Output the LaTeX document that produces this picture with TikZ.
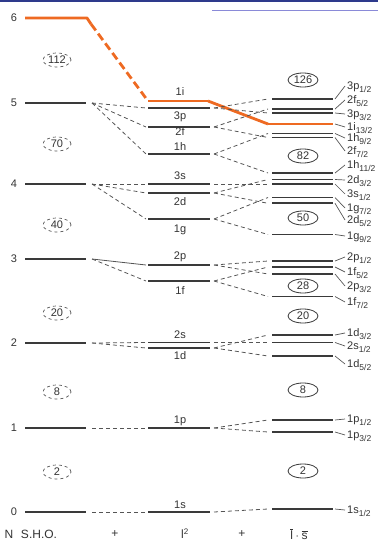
\documentclass[tikz,border=0pt]{standalone}
\usepackage{fontspec}
\setmainfont{Liberation Sans}
\usetikzlibrary{shapes.geometric}
\definecolor{lvc}{HTML}{3A3A3A}
\definecolor{dsc}{HTML}{555555}
\definecolor{txc}{HTML}{333333}
\definecolor{orng}{HTML}{EE6A22}
\definecolor{topblue}{HTML}{2E3A8C}
\definecolor{toplav}{HTML}{8A8AD8}
\newcommand\subtxt[1]{\raisebox{-2.6pt}{\fontsize{8.5}{9}\selectfont #1}}
\begin{document}
\begin{tikzpicture}[x=1pt,y=-1pt,line join=round,
  lev/.style={draw=lvc,line width=1.8pt},
  olev/.style={draw=orng,line width=2.8pt},
  con/.style={draw=dsc,line width=0.8pt,dash pattern=on 4pt off 3pt},
  scon/.style={draw=dsc,line width=0.8pt},
  ocon/.style={draw=orng,line width=2.8pt,dash pattern=on 8pt off 4pt},
  tickline/.style={draw=dsc,line width=0.7pt},
  nlab/.style={text=txc,font=\fontsize{11}{13}\selectfont,inner sep=0pt},
  mlab/.style={text=txc,font=\fontsize{11}{13}\selectfont,inner sep=0pt},
  rlab/.style={text=txc,font=\fontsize{11}{13}\selectfont,inner sep=0pt,anchor=base west},
  blab/.style={text=txc,font=\fontsize{12}{14}\selectfont,inner sep=0pt},
  magd/.style={ellipse,draw=dsc,dashed,line width=0.7pt,minimum width=28pt,minimum height=14pt,inner sep=0pt,text=txc,font=\fontsize{11}{13}\selectfont},
  magn/.style={ellipse,draw=lvc,line width=0.8pt,minimum width=30pt,minimum height=14pt,inner sep=0pt,text=txc,font=\fontsize{11}{13}\selectfont},
]
\useasboundingbox (0,0) rectangle (378,543);
% top rules
\draw[topblue,line width=2pt] (0,1) -- (378,1);
\draw[toplav,line width=0.8pt] (212,10) -- (378,10);

% S.H.O. levels
\foreach \n/\y in {5/103,4/184,3/259,2/343,1/428,0/512} {
  \node[nlab] (N\n) at (14,\y) {\n};
  \draw[lev] (25,\y) coordinate (S\n-L) -- (86,\y) coordinate (S\n-R);
  \coordinate (F\n) at (92,\y);
}
\node[nlab] (N6) at (14,18) {6};

% middle (l^2) levels
\foreach \k/\y in {3p/108,2f/127,1h/154,3s/184,2d/193,1g/219,2p/265,1f/281,2s/342.5,1d/348,1p/428,1s/512} {
  \draw[lev] (148,\y) coordinate (m\k-L) -- (210,\y) coordinate (m\k-R);
}
\draw[olev] (148,101) coordinate (m1i-L) -- (208,101) coordinate (m1i-R);
\foreach \k/\y in {1i/92,3p/117,2f/132,1h/147,3s/176,2d/202,1g/230,2p/257,1f/291,2s/335,1d/356,1p/421,1s/505} {
  \node[mlab] (t\k) at (180,\y) {\k};
}

% right (l.s) levels
\foreach \k/\y in {3p12/99,2f52/109,3p32/113,1h92/133.5,2f72/137.5,1h112/173,2d32/179.5,3s12/184,1g72/197.5,2d52/203.3,1g92/234.5,2p12/261,1f52/267,2p32/274,1f72/296.5,1d32/335,2s12/342.5,1d52/356,1p12/420,1p32/432,1s12/509} {
  \draw[lev] (272,\y) coordinate (r\k-L) -- (333,\y) coordinate (r\k-R);
}
\draw[olev] (268,124) coordinate (r1i132-L) -- (333,124) coordinate (r1i132-R);

% right labels with ticks
\foreach \k/\main/\num/\ly in {3p12/3p/1/86,2f52/2f/5/100,3p32/3p/3/114,1i132/1i/13/127,1h92/1h/9/138,2f72/2f/7/151,1h112/1h/11/165,2d32/2d/3/180,3s12/3s/1/194,1g72/1g/7/208,2d52/2d/5/220,1g92/1g/9/236,2p12/2p/1/257,1f52/1f/5/272,2p32/2p/3/286,1f72/1f/7/302,1d32/1d/3/333,2s12/2s/1/346,1d52/1d/5/364,1p12/1p/1/419,1p32/1p/3/435,1s12/1s/1/510} {
  \draw[tickline] ([xshift=2pt]r\k-R) -- (345,\ly);
  \node[rlab] (l\k) at (347,\ly+3.8) {\main\subtxt{\num/2}};
}

% orange N=6 path
\draw[olev] (25,18) coordinate (S6-L) -- (87,18) coordinate (S6-R) -- (91,24) coordinate (F6);
\draw[ocon] (F6) -- (m1i-L);
\draw[olev] (m1i-R) -- (r1i132-L);

% S.H.O. -> l^2 connectors
\foreach \f/\m in {5/3p,5/2f,5/1h,4/3s,4/2d,4/1g,3/1f,2/2s,2/1d,1/1p,0/1s} {
  \draw[con] (F\f) -- ([xshift=-2pt]m\m-L);
}
\draw[scon] (F3) -- ([xshift=-2pt]m2p-L);

% l^2 -> l.s connectors
\foreach \a/\b in {3p/3p12,3p/3p32,2f/2f52,2f/2f72,1h/1h92,1h/1h112,3s/3s12,2d/2d32,2d/2d52,1g/1g72,1g/1g92,2p/2p12,2p/2p32,1f/1f52,1f/1f72,2s/2s12,1d/1d32,1d/1d52,1p/1p12,1p/1p32,1s/1s12} {
  \draw[con] ([xshift=4pt]m\a-R) -- ([xshift=-4pt]r\b-L);
}

% magic numbers
\foreach \v/\y in {112/60,70/144,40/225,20/313,8/392,2/472} {
  \node[magd] (L\v) at (57,\y) {\v};
}
\foreach \v/\y in {126/80,82/156,50/218,28/286,20/316,8/390,2/471} {
  \node[magn] (R\v) at (303,\y) {\v};
}

% bottom labels
\node[blab] (bN) at (9,534) {N};
\node[blab] (bS) at (39,534) {S.H.O.};
\node[blab] (bp1) at (115,534) {+};
\node[blab] (bl2) at (185,534) {l\textsuperscript{2}};
\node[blab] (bp2) at (242,534) {+};
\node[blab] (bls) at (299,534) {$\overline{\mbox{l}}\cdot\overline{\mbox{s}}$};
\end{tikzpicture}
\end{document}
